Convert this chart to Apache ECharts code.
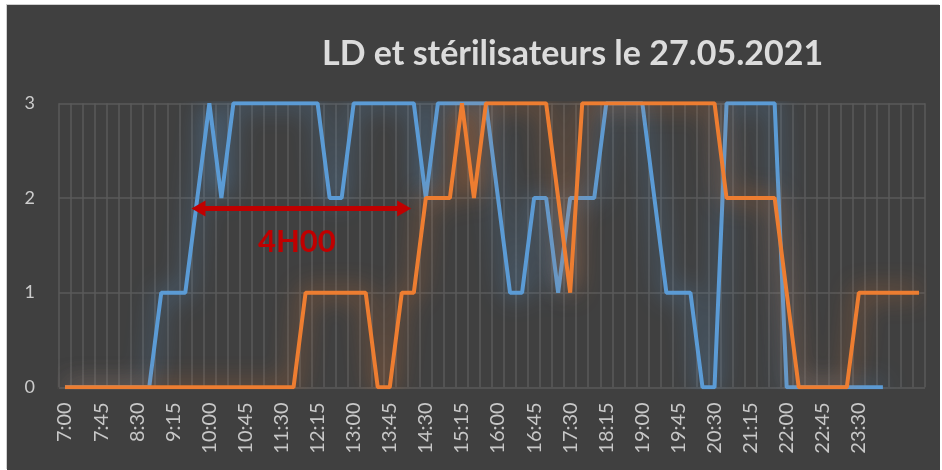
<!DOCTYPE html>
<html>
<head>
<meta charset="utf-8">
<script src="https://cdn.jsdelivr.net/npm/echarts@6/dist/echarts.min.js"></script>
<style>
  html, body { margin: 0; padding: 0; background: #ffffff; width: 942px; height: 470px; overflow: hidden; }
  #chart { position: absolute; left: 7px; top: 5px; width: 933px; height: 465px; background: #404040; box-shadow: -1px -1px 0 #d0d0d0; }
</style>
</head>
<body>
<div id="chart"></div>
<script>
// Categories: one every 15 minutes
const categories = [
  "7:00","7:15","7:30","7:45","8:00","8:15","8:30","8:45","9:00","9:15","9:30","9:45",
  "10:00","10:15","10:30","10:45","11:00","11:15","11:30","11:45","12:00","12:15","12:30","12:45",
  "13:00","13:15","13:30","13:45","14:00","14:15","14:30","14:45","15:00","15:15","15:30","15:45",
  "16:00","16:15","16:30","16:45","17:00","17:15","17:30","17:45","18:00","18:15","18:30","18:45",
  "19:00","19:15","19:30","19:45","20:00","20:15","20:30","20:45","21:00","21:15","21:30","21:45",
  "22:00","22:15","22:30","22:45","23:00","23:15","23:30","23:45","0:00","0:15","0:30","0:45"
];
// LD (blue)
const ldValues = [
  0,0,0,0,0,0,0,0, 1,1,1, 2, 3, 2, 3,3,3,3,3,3,3,3, 2,2, 3,3,3,3,3,3, 2, 3,3,3,3,3, 2, 1,1, 2,2, 1,
  2,2,2, 3,3,3,3, 2, 1,1,1, 0,0, 3,3,3,3,3, 0,0,0,0,0,0,0,0,0, null,null,null
];
// Stérilisateurs (orange)
const sterValues = [
  0,0,0,0,0,0,0,0,0,0,0,0,0,0,0,0,0,0,0,0, 1,1,1,1,1,1, 0,0, 1,1, 2,2,2, 3, 2, 3,3,3,3,3,3, 2, 1,
  3,3,3,3,3,3,3,3,3,3,3,3, 2,2,2,2,2, 1, 0,0,0,0,0, 1,1,1,1,1,1
];
const yTicks = [0, 1, 2, 3];
const titleText = "LD et stérilisateurs le 27.05.2021";
const annotationText = "4H00";
// annotation position (in category-boundary units on a hidden value axis, y in data units)
const arrowFrom = [11.6, 1.89];
const arrowTo = [28.7, 1.89];
const annotationPos = [19.78, 1.53];
const lastLabelIndex = 66;

const chart = echarts.init(document.getElementById('chart'), null, { renderer: 'canvas' });
const font = 'Lato, "Open Sans", sans-serif';
const option = {
  animation: false,
  backgroundColor: '#404040',
  title: {
    text: titleText,
    left: 310,
    top: 27,
    textStyle: { color: '#dcdcdc', fontFamily: font, fontWeight: 'bold', fontSize: 34 }
  },
  grid: { left: 52, right: 15, top: 98.3, bottom: 82.7, containLabel: false },
  xAxis: [{
    type: 'category',
    data: categories,
    boundaryGap: true,
    axisLine: { show: false },
    axisTick: { show: false },
    axisLabel: {
      rotate: 90,
      margin: 15,
      color: '#c8c8c8',
      fontFamily: font,
      fontSize: 20,
      interval: (i) => i % 3 === 0 && i <= lastLabelIndex
    },
    splitLine: { show: true, interval: 0, lineStyle: { color: '#5a5a5a', width: 1.5 } }
  }, {
    type: 'value',
    min: 0,
    max: categories.length,
    show: false
  }],
  yAxis: {
    type: 'value',
    min: yTicks[0],
    max: yTicks[yTicks.length - 1],
    interval: 1,
    axisLine: { show: false },
    axisTick: { show: false },
    axisLabel: { color: '#cccccc', fontFamily: font, fontSize: 18, margin: 24 },
    splitLine: { show: true, lineStyle: { color: '#5a5a5a', width: 1.5 } }
  },
  series: [
    {
      name: 'LD',
      type: 'line',
      data: ldValues,
      symbol: 'none',
      connectNulls: false,
      lineStyle: { color: '#5B9BD5', width: 4, shadowBlur: 24, shadowColor: 'rgba(91,155,213,0.9)' },
      itemStyle: { color: '#5B9BD5' },
      z: 2
    },
    {
      name: 'Stérilisateurs',
      type: 'line',
      data: sterValues,
      symbol: 'none',
      lineStyle: { color: '#ED7D31', width: 4, shadowBlur: 24, shadowColor: 'rgba(237,125,49,0.85)' },
      itemStyle: { color: '#ED7D31' },
      z: 3
    },
    {
      name: 'annotation',
      type: 'line',
      xAxisIndex: 1,
      data: [],
      silent: true,
      z: 4,
      markLine: {
        silent: true,
        symbol: ['triangle', 'triangle'],
        symbolSize: [16, 14],
        label: { show: false },
        lineStyle: { color: '#C00000', width: 5, type: 'solid' },
        emphasis: { disabled: true },
        data: [[{ coord: arrowFrom }, { coord: arrowTo }]]
      },
      markPoint: {
        silent: true,
        symbol: 'circle',
        symbolSize: 0,
        label: {
          show: true,
          position: 'inside',
          formatter: annotationText,
          color: '#C00000',
          fontFamily: font,
          fontWeight: 'bold',
          fontSize: 31
        },
        data: [{ coord: annotationPos }]
      }
    }
  ]
};
chart.setOption(option);
</script>
</body>
</html>
